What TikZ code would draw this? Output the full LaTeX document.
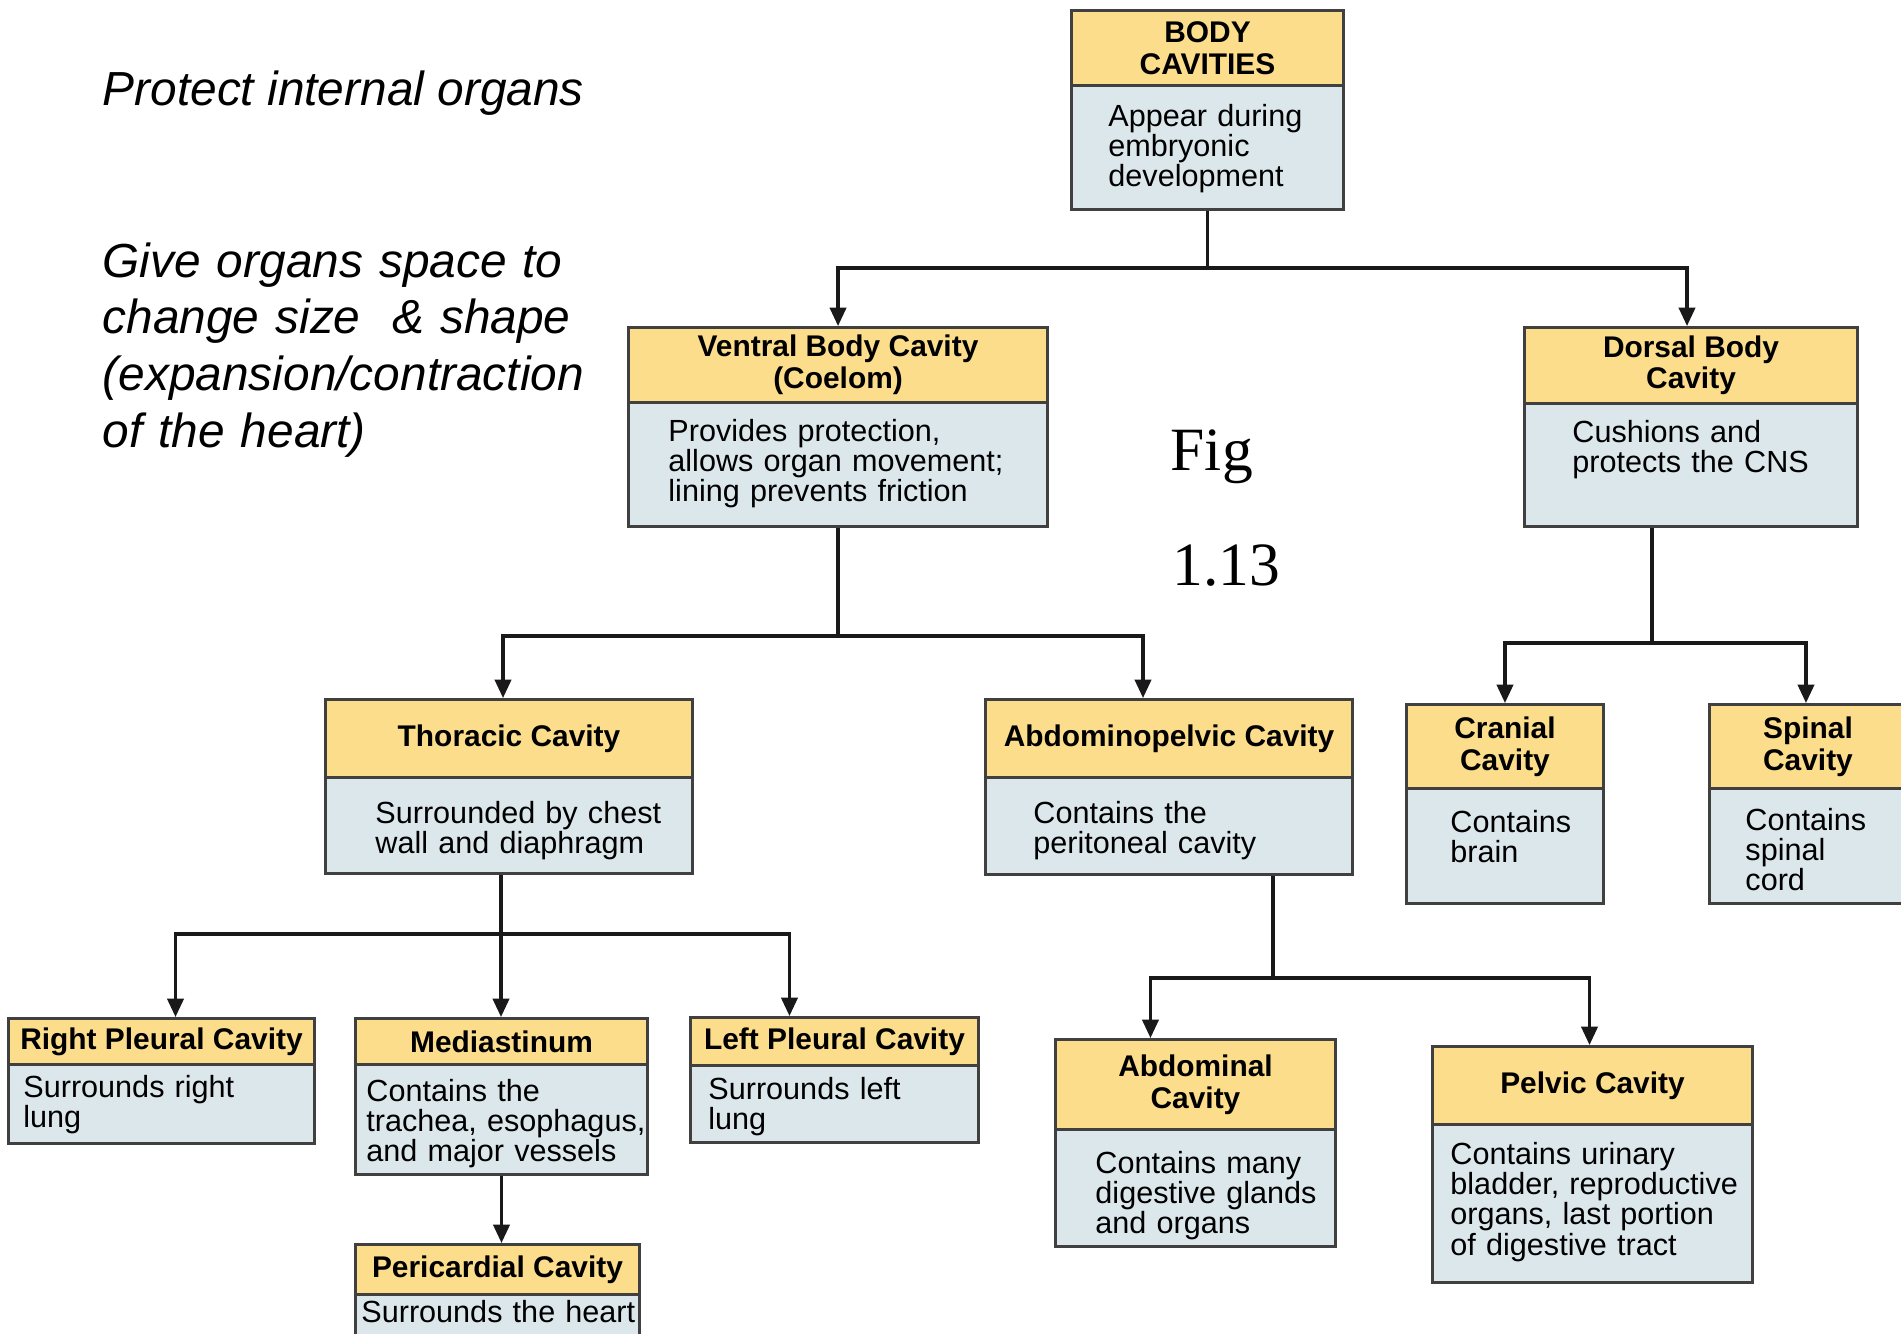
\documentclass[tikz,border=0pt]{standalone}
\usepackage{fontspec}
\setmainfont{Liberation Sans}
\newfontfamily\figfont{Liberation Serif}
\usetikzlibrary{arrows.meta}

\definecolor{headfill}{RGB}{252,221,140}
\definecolor{descfill}{RGB}{220,231,236}
\definecolor{boxline}{RGB}{64,64,64}
\definecolor{linkcol}{RGB}{25,25,25}

\newcommand{\headfont}{\fontsize{8.5}{9}\selectfont\bfseries}
\newcommand{\descfont}{\fontsize{8.7}{8.6}\selectfont}
\newcommand{\notefont}{\fontsize{13.6}{16.2}\selectfont\itshape}

\tikzset{
    head/.style={draw=boxline, fill=headfill, line width=0.8pt, anchor=north west,
        inner sep=0pt, align=center, font=\headfont},
    % width, left inset, first baseline, rest of the box
    desc/.style n args={4}{draw=boxline, fill=descfill, line width=0.8pt, anchor=north west,
        inner sep=0pt, text width=#1cm, align=left, font=\descfont,
        text height=#3cm, text depth=#4cm,
        execute at begin node={\leftskip=#2cm\relax}},
    note/.style={anchor=base west, inner sep=0pt, font=\notefont},
    figlabel/.style={anchor=base west, inner sep=0pt, font=\figfont\fontsize{17.5}{20}\selectfont},
    link/.style={draw=linkcol, line width=0.9pt},
    >={Triangle[length=5.2pt, width=4.6pt]},
}

\begin{document}
\begin{tikzpicture}[x=0.01cm, y=-0.01cm]
    \useasboundingbox[fill=white] (0,0) rectangle (1901,1333);

    % side notes
    \node[note] (protect) at (102,105) {Protect internal organs};
    \node[note, text width=5.2cm, align=left] (space) at (102,277)
        {Give organs space to\\change size~ \& shape\\(expansion/contraction\\of the heart)};

    % figure number
    \node[figlabel] (fig) at (1170,470) {Fig};
    \node[figlabel] (fignum) at (1172,585) {1.13};

    % top box
    \node[head, minimum width=2.72cm, minimum height=0.75cm] (body-head) at (1070,9) {BODY\\CAVITIES};
    \node[desc={2.72}{0.37}{0.41}{0.83}] (body-desc) at (1070,84) {Appear during\\embryonic\\development};

    % ventral / dorsal
    \node[head, minimum width=4.19cm, minimum height=0.75cm] (ventral-head) at (627,326) {Ventral Body Cavity\\(Coelom)};
    \node[desc={4.19}{0.40}{0.39}{0.85}] (ventral-desc) at (627,401)
        {Provides protection,\\allows organ movement;\\lining prevents friction};

    \node[head, minimum width=3.33cm, minimum height=0.76cm] (dorsal-head) at (1523,326) {Dorsal Body\\Cavity};
    \node[desc={3.33}{0.48}{0.39}{0.84}] (dorsal-desc) at (1523,402) {Cushions and\\protects the CNS};

    % third row
    \node[head, minimum width=3.67cm, minimum height=0.78cm] (thoracic-head) at (324,698) {Thoracic Cavity};
    \node[desc={3.67}{0.50}{0.46}{0.50}] (thoracic-desc) at (324,776) {Surrounded by chest\\wall and diaphragm};

    \node[head, minimum width=3.67cm, minimum height=0.78cm] (abdpel-head) at (984,698) {Abdominopelvic Cavity};
    \node[desc={3.67}{0.48}{0.46}{0.51}] (abdpel-desc) at (984,776) {Contains the\\peritoneal cavity};

    \node[head, minimum width=1.97cm, minimum height=0.84cm] (cranial-head) at (1405,703) {Cranial\\Cavity};
    \node[desc={1.97}{0.44}{0.44}{0.71}] (cranial-desc) at (1405,787) {Contains\\brain};

    \node[head, minimum width=1.97cm, minimum height=0.84cm] (spinal-head) at (1708,703) {Spinal\\Cavity};
    \node[desc={1.97}{0.36}{0.42}{0.73}] (spinal-desc) at (1708,787) {Contains\\spinal\\cord};

    % fourth row
    \node[head, minimum width=3.06cm, minimum height=0.46cm] (rpleural-head) at (7,1017) {Right Pleural Cavity};
    \node[desc={3.06}{0.15}{0.33}{0.46}] (rpleural-desc) at (7,1063) {Surrounds right\\lung};

    \node[head, minimum width=2.92cm, minimum height=0.46cm] (mediast-head) at (354,1017) {Mediastinum};
    \node[desc={2.92}{0.11}{0.37}{0.73}] (mediast-desc) at (354,1063)
        {Contains the\\trachea, esophagus,\\and major vessels};

    \node[head, minimum width=2.88cm, minimum height=0.48cm] (lpleural-head) at (689,1016) {Left Pleural Cavity};
    \node[desc={2.88}{0.18}{0.34}{0.43}] (lpleural-desc) at (689,1064) {Surrounds left\\lung};

    \node[head, minimum width=2.84cm, minimum height=0.50cm] (pericard-head) at (354,1243) {Pericardial Cavity};
    \node[desc={2.84}{0.06}{0.28}{0.70}] (pericard-desc) at (354,1293) {Surrounds the heart};

    \node[head, minimum width=2.80cm, minimum height=0.90cm] (abdom-head) at (1054,1038) {Abdominal\\Cavity};
    \node[desc={2.80}{0.40}{0.44}{0.73}] (abdom-desc) at (1054,1128)
        {Contains many\\digestive glands\\and organs};

    \node[head, minimum width=3.20cm, minimum height=0.78cm] (pelvic-head) at (1431,1045) {Pelvic Cavity};
    \node[desc={3.20}{0.18}{0.40}{1.18}] (pelvic-desc) at (1431,1123)
        {Contains urinary\\bladder, reproductive\\organs, last portion\\of digestive tract};

    % connector junctions
    \coordinate (j0) at (body-desc.south |- 0,268);
    \coordinate (j1) at (ventral-desc.south |- 0,636);
    \coordinate (j2) at (1652,643);
    \coordinate (j3) at (501,934);
    \coordinate (j4) at (1273,978);

    % body cavities -> ventral, dorsal
    \draw[link] (body-desc.south) -- (j0);
    \draw[link, ->] (j0) -| (ventral-head.north);
    \draw[link, ->] (j0) -| ([xshift=-0.04cm]dorsal-head.north);

    % ventral -> thoracic, abdominopelvic
    \draw[link] (ventral-desc.south) -- (j1);
    \draw[link, ->] (j1) -| ([xshift=-0.06cm]thoracic-head.north);
    \draw[link, ->] (j1) -| ([xshift=-0.26cm]abdpel-head.north);

    % dorsal -> cranial, spinal
    \draw[link] (dorsal-desc.south -| j2) -- (j2);
    \draw[link, ->] (j2) -| (cranial-head.north);
    \draw[link, ->] (j2) -| ([xshift=-0.02cm]spinal-head.north);

    % thoracic -> pleurals, mediastinum
    \draw[link] (thoracic-desc.south -| j3) -- (j3);
    \draw[link, ->] (j3) -| ([xshift=0.14cm]rpleural-head.north);
    \draw[link, ->] (j3) -- (j3 |- mediast-head.north);
    \draw[link, ->] (j3) -| ([xshift=-0.45cm]lpleural-head.north);

    % mediastinum -> pericardial
    \draw[link, ->] (mediast-desc.south) -- (mediast-desc.south |- pericard-head.north);

    % abdominopelvic -> abdominal, pelvic
    \draw[link] (abdpel-desc.south -| j4) -- (j4);
    \draw[link, ->] (j4) -| ([xshift=-0.45cm]abdom-head.north);
    \draw[link, ->] (j4) -| ([xshift=-0.03cm]pelvic-head.north);

\end{tikzpicture}
\end{document}
